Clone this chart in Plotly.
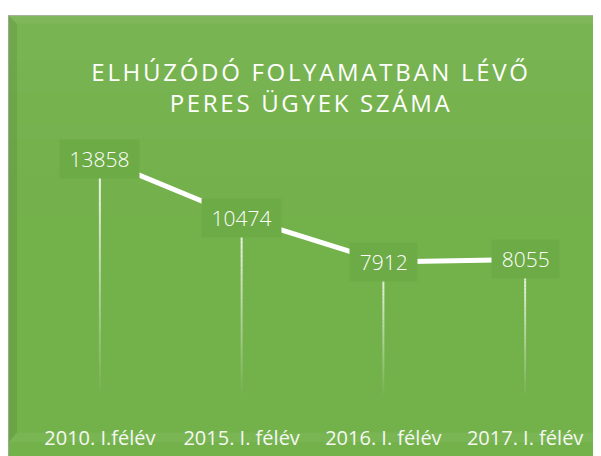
import plotly.graph_objects as go

# ---- data ----
categories = ["2010. I.félév", "2015. I. félév", "2016. I. félév", "2017. I. félév"]
values = [13858, 10474, 7912, 8055]
title_lines = ["ELHÚZÓDÓ FOLYAMATBAN LÉVŐ", "PERES ÜGYEK SZÁMA"]

# ---- layout geometry (figure sits 8px inside the page because of body margin) ----
OFF = 8
W, H = 601 - OFF, 456 - OFF
ML, MR, MT, MB = 21, 5, 122, 45
YMAX = 15525

def px(x):  # screen x -> paper
    return (x - OFF - ML) / (W - ML - MR)

def py(y):  # screen y -> paper
    return (H - MB - (y - OFF)) / (H - MT - MB)

GREEN = "#73b14b"
BOX = "#6dab46"
FONT = "Open Sans"

fig = go.Figure()

# faded drop lines (from value down to zero)
N = 40
for k in range(N):
    xs, ys = [], []
    for c, v in zip(categories, values):
        xs += [c, c, None]
        ys += [v * k / N, v * (k + 1) / N, None]
    a = (k + 0.5) / N * 0.95
    fig.add_trace(go.Scatter(x=xs, y=ys, mode="lines",
                             line=dict(color=f"rgba(255,255,255,{a:.3f})", width=2),
                             hoverinfo="skip", showlegend=False))

# main line
fig.add_trace(go.Scatter(x=categories, y=values, mode="lines",
                         line=dict(color="white", width=5),
                         hoverinfo="skip", showlegend=False))

# data labels
for c, v in zip(categories, values):
    t = str(v)
    fig.add_annotation(x=c, y=v, text=t, showarrow=False,
                       font=dict(family=FONT, size=21, color="white", weight=300),
                       bgcolor=BOX, width=11.6 * len(t) + 19, height=36,
                       xanchor="center", yanchor="middle")

def path(pts):
    return "M " + " L ".join(f"{px(x)},{py(y)}" for x, y in pts) + " Z"

shapes = []
# white strip above the green box
shapes.append(dict(type="rect", xref="paper", yref="paper", layer="below",
                   x0=px(0), x1=px(620), y0=py(0), y1=py(10),
                   fillcolor="white", line=dict(width=0)))
# thin grey border of the box
shapes.append(dict(type="line", xref="paper", yref="paper", layer="below",
                   x0=px(8), x1=px(620), y0=py(10.5), y1=py(10.5),
                   line=dict(color="#aab3a4", width=1)))
shapes.append(dict(type="line", xref="paper", yref="paper", layer="below",
                   x0=px(8.5), x1=px(8.5), y0=py(10), y1=py(470),
                   line=dict(color="#9aa894", width=1)))
# lighter top gradient
bands = 14
for i in range(bands):
    y0 = 11 + i * 16
    shapes.append(dict(type="rect", xref="paper", yref="paper", layer="below",
                       x0=px(9), x1=px(620), y0=py(y0), y1=py(y0 + 16),
                       fillcolor="white", opacity=0.045 * (1 - i / bands),
                       line=dict(width=0)))
# left bevel (darker)
shapes.append(dict(type="path", xref="paper", yref="paper", layer="below",
                   path=path([(9, 11), (17, 19), (17, 446), (9, 456)]),
                   fillcolor="black", opacity=0.07, line=dict(width=0)))
# top bevel (lighter)
shapes.append(dict(type="path", xref="paper", yref="paper", layer="below",
                   path=path([(9, 11), (601, 11), (593, 19), (17, 19)]),
                   fillcolor="white", opacity=0.05, line=dict(width=0)))
# bottom bevel (lighter)
shapes.append(dict(type="path", xref="paper", yref="paper", layer="below",
                   path=path([(17, 446), (601, 446), (601, 456), (9, 456)]),
                   fillcolor="white", opacity=0.05, line=dict(width=0)))
# right bevel (darker)
shapes.append(dict(type="path", xref="paper", yref="paper", layer="below",
                   path=path([(593, 19), (601, 11), (601, 456), (593, 446)]),
                   fillcolor="black", opacity=0.06, line=dict(width=0)))

title_html = "<br>".join(
    f'<span style="letter-spacing:2.7px">{t}</span>' for t in title_lines)

fig.update_layout(
    width=W, height=H,
    margin=dict(l=ML, r=MR, t=MT, b=MB),
    paper_bgcolor=GREEN,
    plot_bgcolor="rgba(0,0,0,0)",
    shapes=shapes,
    title=dict(text=title_html, x=px(311), xref="paper", xanchor="center",
               y=1 - (81 - OFF) / H, yref="container", yanchor="middle",
               font=dict(family=FONT, size=24, color="white")),
    xaxis=dict(type="category", range=[-0.5, 3.5], showgrid=False,
               showline=False, zeroline=False, ticks="outside", ticklen=21,
               tickcolor="rgba(0,0,0,0)",
               tickfont=dict(family=FONT, size=20, color="#f4f8f0")),
    yaxis=dict(range=[0, YMAX], visible=False, showgrid=False, zeroline=False),
    showlegend=False,
)

fig.write_html("out.html")
